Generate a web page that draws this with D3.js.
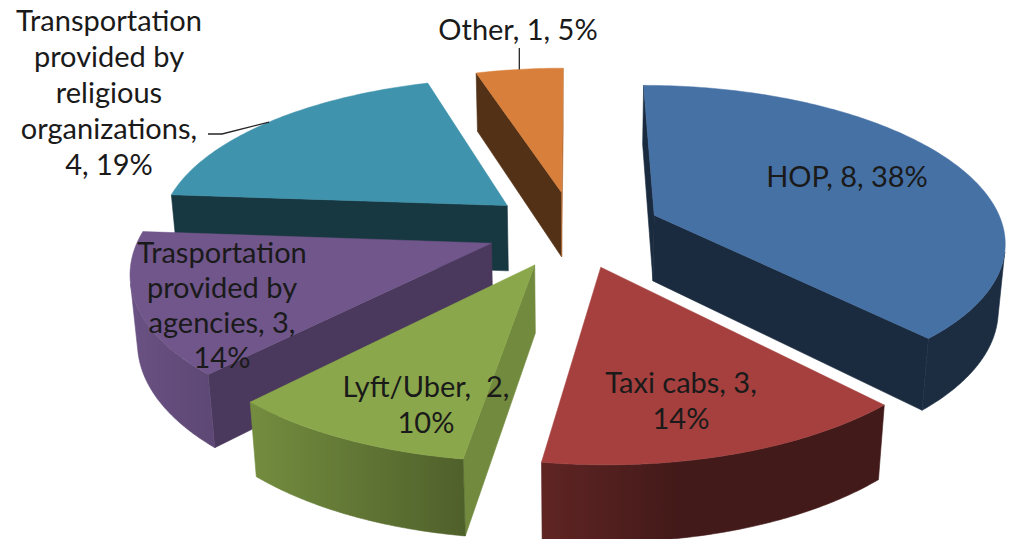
<!DOCTYPE html>
<html><head><meta charset="utf-8">
<script src="https://cdn.jsdelivr.net/npm/d3@7"></script>
<style>html,body{margin:0;padding:0;background:#fff;overflow:hidden}svg{display:block}</style>
</head><body>
<svg id="chart" width="1009" height="539"></svg>
<script>
// ---------- data ----------
const categories = ["HOP", "Taxi cabs", "Lyft/Uber", "Trasportation provided by agencies",
  "Transportation provided by religious organizations", "Other"];
const values = [8, 3, 2, 3, 4, 1];
const percents = ["38%", "14%", "10%", "14%", "19%", "5%"];
const labelLines = [
  ["HOP, 8, 38%"],
  ["Taxi cabs, 3,", "14%"],
  ["Lyft/Uber,  2,", "10%"],
  ["Trasportation", "provided by", "agencies, 3,", "14%"],
  ["Transportation", "provided by", "religious", "organizations,", "4, 19%"],
  ["Other, 1, 5%"]
];
const colors = ["#4671A5", "#A5403E", "#8AA84B", "#70568B", "#3F93AC", "#D8803B"];

// ---------- layout / view ----------
const view = { cx: 574, cy: 229, f: 2028, D: 5.8, elev: Math.asin(0.44), thick: 0.215, explode: 0.25 };
const labelLayout = [
  { x: 847, y: 187, lh: 36 },
  { x: 681, y: 393, lh: 35.5 },
  { x: 426, y: 397, lh: 35.5 },
  { x: 222, y: 263, lh: 35 },
  { x: 109, y: 31, lh: 36 },
  { x: 518, y: 40, lh: 36 }
];
const leaders = { 5: [[null, 48]], 4: [[222, 134], [208, 134]] };

const svg = d3.select("#chart");
const defs = svg.append("defs");
const ce = Math.cos(view.elev), se = Math.sin(view.elev);
const cam = [0, view.D * se, -view.D * ce];

function proj(p) {
  const [X, Y, Z] = p;
  const yv = Y * ce + Z * se;
  const zv = view.D + Z * ce - Y * se;
  return [view.cx + view.f * X / zv, view.cy - view.f * yv / zv];
}
function visible(P, n) {
  return n[0] * (cam[0] - P[0]) + n[1] * (cam[1] - P[1]) + n[2] * (cam[2] - P[2]) > 0;
}
function shade(hex, k) {
  const c = d3.rgb(hex);
  return d3.rgb(c.r * k, c.g * k, c.b * k).formatHex();
}
const deg = r => r * 180 / Math.PI;
function outerK(a) { // outer curved wall brightness
  return 0.4 + 0.55 * Math.max(0, Math.cos((deg(a) - 260) * Math.PI / 180));
}
function radialK(nAng) {
  const c = Math.max(0, Math.cos(nAng - Math.PI / 2));
  return 0.38 + 0.45 * Math.pow(c, 1.5);
}

const pie = d3.pie().sort(null).value(d => d)(values);
const slices = pie.map((p, i) => {
  const mid = (p.startAngle + p.endAngle) / 2;
  return { i, s: p.startAngle, e: p.endAngle, mid,
    ox: view.explode * Math.sin(mid), oz: view.explode * Math.cos(mid) };
});
function pt(sl, a, r, Y) { return [sl.ox + r * Math.sin(a), Y, sl.oz + r * Math.cos(a)]; }

const line = d3.line();
const g = svg.append("g");
let gid = 0;

const order = slices.slice().sort((a, b) => b.oz - a.oz);
order.forEach(sl => {
  const col = colors[sl.i];
  const T = -view.thick;
  const gs = g.append("g");
  // radial walls
  [["s", sl.s], ["e", sl.e]].forEach(([kind, a]) => {
    const n = kind === "s" ? [-Math.cos(a), 0, Math.sin(a)] : [Math.cos(a), 0, -Math.sin(a)];
    const mp = pt(sl, a, 0.5, T / 2);
    if (!visible(mp, n)) return;
    const quad = [pt(sl, a, 0, 0), pt(sl, a, 1, 0), pt(sl, a, 1, T), pt(sl, a, 0, T)].map(proj);
    let na = Math.atan2(n[0], n[2]); if (na < 0) na += 2 * Math.PI;
    const c = shade(col, radialK(na));
    gs.append("path").attr("d", line(quad) + "Z").attr("fill", c).attr("stroke", c).attr("stroke-width", 0.6);
  });
  // outer wall: find visible contiguous angle intervals
  const steps = Math.max(20, Math.ceil(deg(sl.e - sl.s) * 2));
  const angs = d3.range(steps + 1).map(j => sl.s + (sl.e - sl.s) * j / steps);
  const vis = angs.map(a => visible(pt(sl, a, 1, T / 2), [Math.sin(a), 0, Math.cos(a)]));
  let runs = [], cur = null;
  angs.forEach((a, j) => {
    if (vis[j]) { if (!cur) { cur = []; runs.push(cur); } cur.push(a); }
    else cur = null;
  });
  runs.filter(r => r.length > 1).forEach(run => {
    const topPts = run.map(a => proj(pt(sl, a, 1, 0)));
    const botPts = run.map(a => proj(pt(sl, a, 1, T)));
    const x1 = topPts[0][0], x2 = topPts[topPts.length - 1][0];
    const id = "wall" + (gid++);
    const grad = defs.append("linearGradient").attr("id", id)
      .attr("gradientUnits", "userSpaceOnUse").attr("x1", x1).attr("x2", x2).attr("y1", 0).attr("y2", 0);
    let last = 0;
    run.forEach((a, j) => {
      let off = (topPts[j][0] - x1) / ((x2 - x1) || 1);
      off = Math.min(1, Math.max(last, off)); last = off;
      grad.append("stop").attr("offset", off).attr("stop-color", shade(col, outerK(a)));
    });
    const poly = topPts.concat(botPts.slice().reverse());
    gs.append("path").attr("d", line(poly) + "Z").attr("fill", `url(#${id})`)
      .attr("stroke", `url(#${id})`).attr("stroke-width", 0.6);
  });
  // top face
  const top = [proj(pt(sl, 0, 0, 0))];
  const ts = Math.max(8, Math.ceil(deg(sl.e - sl.s)));
  for (let j = 0; j <= ts; j++) top.push(proj(pt(sl, sl.s + (sl.e - sl.s) * j / ts, 1, 0)));
  gs.append("path").attr("d", line(top) + "Z").attr("fill", col).attr("stroke", col).attr("stroke-width", 0.5);
});

// leader lines
Object.keys(leaders).forEach(key => {
  const sl = slices[+key];
  const start = proj(pt(sl, sl.mid, 1, 0));
  const pts = [start].concat(leaders[key].map(p => [p[0] === null ? start[0] : p[0], p[1]]));
  svg.append("path").attr("d", line(pts)).attr("fill", "none").attr("stroke", "#262626").attr("stroke-width", 1.3);
});

// labels
const fontSize = 29;
labelLines.forEach((lines, i) => {
  const L = labelLayout[i];
  const t = svg.append("text").attr("text-anchor", "middle")
    .attr("font-family", "Lato, 'Open Sans', sans-serif").attr("font-size", fontSize)
    .attr("fill", "#1a1a1a").style("white-space", "pre");
  lines.forEach((s, j) => {
    t.append("tspan").attr("x", L.x).attr("y", L.y + j * L.lh).text(s);
  });
});
</script>
</body></html>
